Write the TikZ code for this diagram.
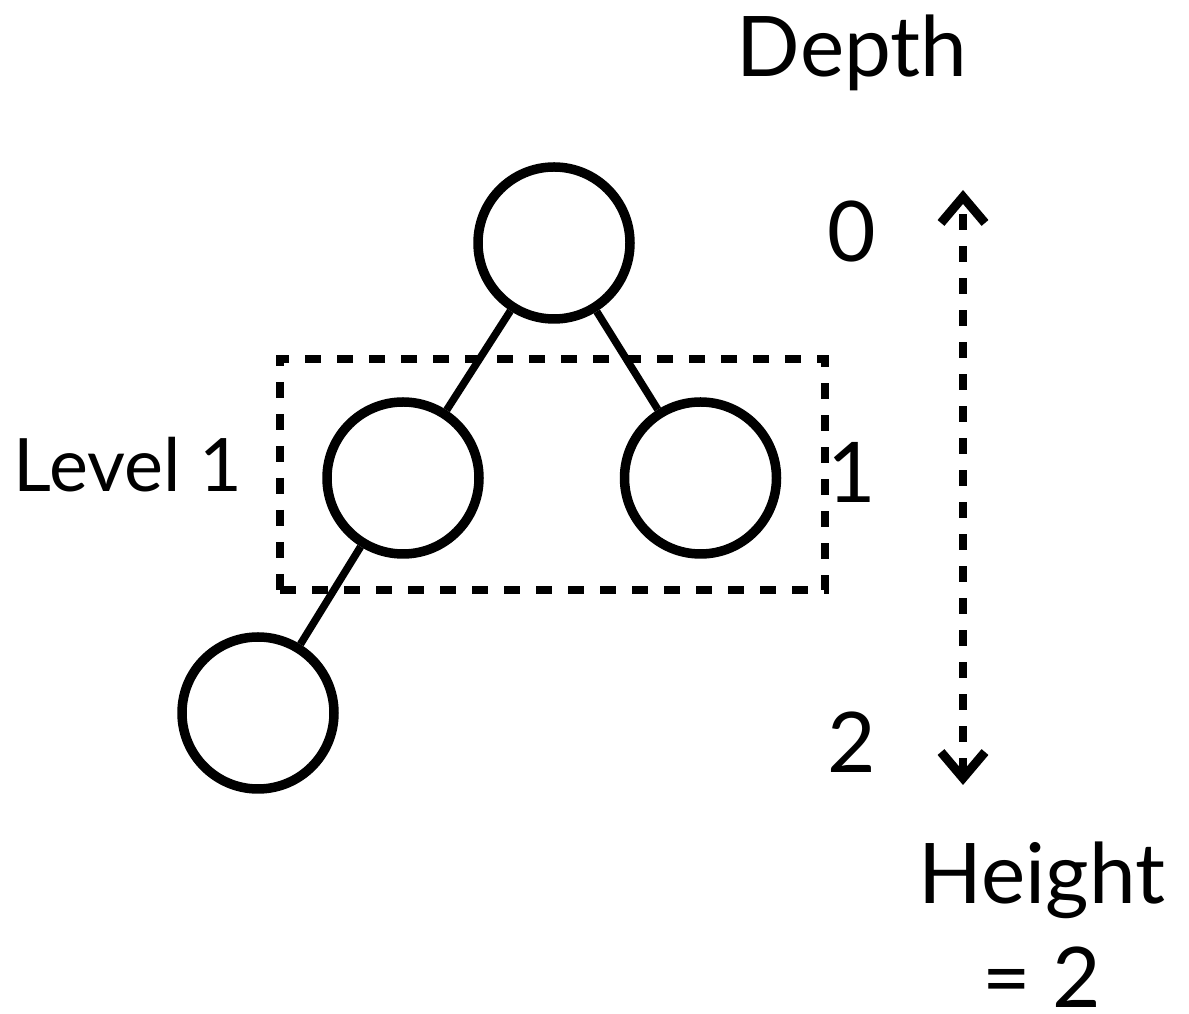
\documentclass[tikz,border=0pt]{standalone}
\usepackage{fontspec}
\setmainfont{Lato}
\usetikzlibrary{arrows.meta}
\begin{document}
\begin{tikzpicture}[>={Straight Barb[length=26bp,width=44bp,line width=9bp]},line join=miter,
  vertex/.style={draw,circle,line width=9.5bp,minimum size=152bp,inner sep=0bp},
  treeedge/.style={line width=7.5bp},
  lbl/.style={anchor=base,inner sep=0bp,font=\fontsize{84}{110}\selectfont},
  ]
\useasboundingbox (0bp,0bp) rectangle (1189bp,1014bp);
%%
\node (root) at (554bp,771bp) [vertex] {};
  \node (left) at (403bp,536bp) [vertex] {};
  \node (right) at (700.5bp,536bp) [vertex] {};
  \node (leaf) at (258bp,301bp) [vertex] {};
  \draw [treeedge] (root) -- (left);
  \draw [treeedge] (root) -- (right);
  \draw [treeedge] (left) -- (leaf);
%
\node (levelbox) at (552.5bp,539.5bp) [draw,line width=8.5bp,dash pattern=on 16bp off 16bp,minimum width=545bp,minimum height=231bp] {};
  \node (levellbl) at (128bp,522bp) [lbl,font=\fontsize{74}{90}\selectfont] {Level 1};
%
\node (depthlbl) at (852bp,937bp) [lbl] {Depth};
  \node (d0) at (852bp,752bp) [lbl] {0};
  \node (d1) at (852bp,511bp) [lbl] {1};
  \node (d2) at (852bp,241bp) [lbl] {2};
  \coordinate (htop) at (963bp,824bp);
  \coordinate (hbot) at (963bp,229bp);
  \draw [<->,line width=8.5bp,dash pattern=on 16bp off 16bp] (hbot) -- (htop);
  \node (heightlbl) at (1042bp,6bp) [lbl,align=center,text depth=0bp,font=\fontsize{84}{105}\selectfont] {Height\\= 2};
%
\end{tikzpicture}
\end{document}
